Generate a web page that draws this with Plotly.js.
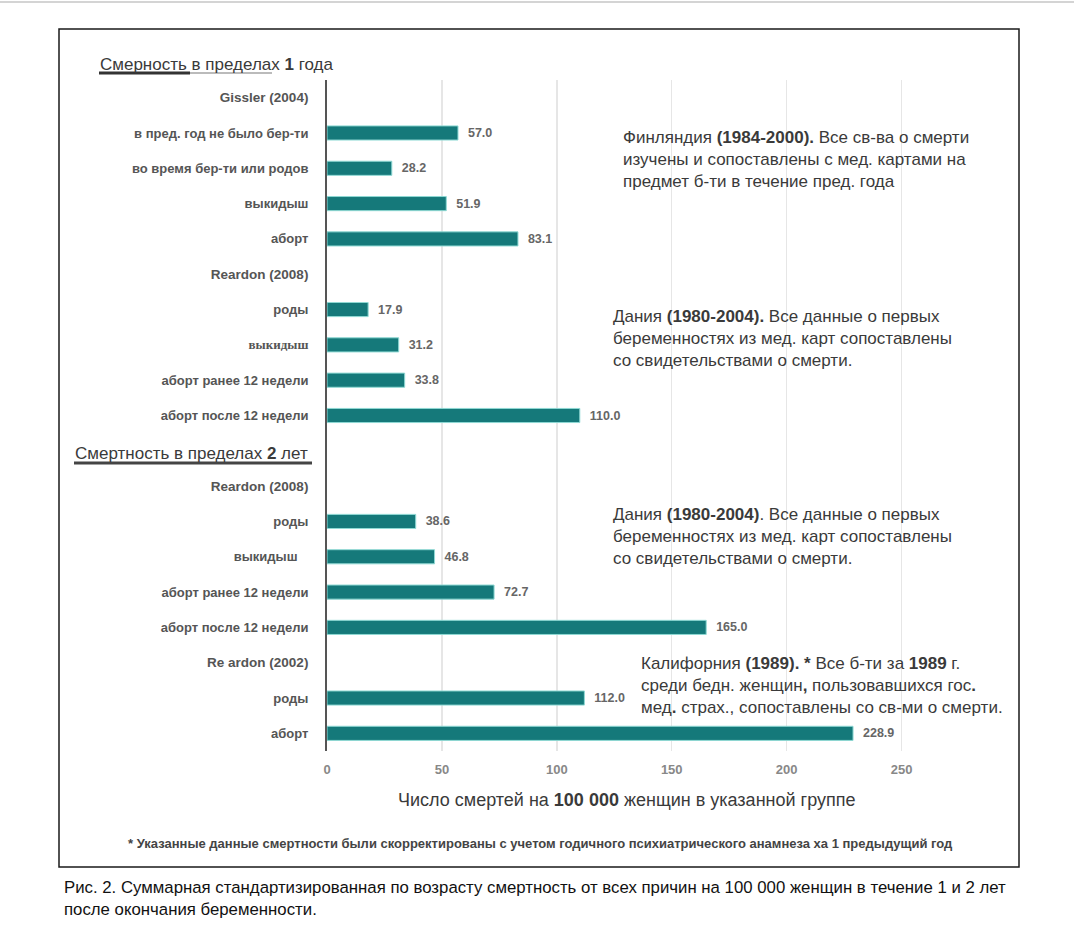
<!DOCTYPE html>
<html>
<head>
<meta charset="utf-8">
<script src="https://cdn.plot.ly/plotly-3.0.1.min.js"></script>
<style>html,body{margin:0;padding:0;background:#fff;}#chart{width:1074px;height:950px;}</style>
</head>
<body>
<div id="chart"></div>
<script>
// ---- data ----
const rowLabels = [
  "Gissler (2004)",
  "в пред. год не было бер-ти",
  "во время бер-ти или родов",
  "выкидыш",
  "аборт",
  "Reardon (2008)",
  "роды",
  "<span style=\"font-family:Liberation Serif\">выкидыш</span>",
  "аборт ранее 12 недели",
  "аборт после 12 недели",
  "",
  "Reardon (2008)",
  "роды",
  "выкидыш   ",
  "аборт ранее 12 недели",
  "аборт после 12 недели",
  "Re ardon (2002)",
  "роды",
  "аборт"
];
const deathRates = [null, 57.0, 28.2, 51.9, 83.1, null, 17.9, 31.2, 33.8, 110.0, null, null, 38.6, 46.8, 72.7, 165.0, null, 112.0, 228.9];
const xTickVals = [0, 50, 100, 150, 200, 250];

const header1 = "Смерность в пределах <b>1</b> года";
const header2 = "Смертность в пределах <b>2</b> лет";
const note1 = "Финляндия <b>(1984-2000).</b> Все св-ва о смерти<br>изучены и сопоставлены с мед. картами на<br>предмет б-ти в течение пред. года";
const note2 = "Дания <b>(1980-2004).</b> Все данные о первых<br>беременностях из мед. карт сопоставлены<br>со свидетельствами о смерти.";
const note3 = "Дания <b>(1980-2004)</b>. Все данные о первых<br>беременностях из мед. карт сопоставлены<br>со свидетельствами о смерти.";
const note4 = "Калифорния <b>(1989). *</b> Все б-ти за <b>1989</b> г.<br>среди бедн. женщин<b>,</b> пользовавшихся гос<b>.</b><br>мед<b>.</b> страх., сопоставлены со св-ми о смерти.";
const xTitle = "Число смертей на <b>100 000</b> женщин в указанной группе";
const footnote = "* Указанные данные смертности были скорректированы с учетом годичного психиатрического анамнеза ха 1 предыдущий год";
const caption = "Рис. 2. Суммарная стандартизированная по возрасту смертность от всех причин на 100 000 женщин в течение 1 и 2 лет<br>после окончания беременности.";

// ---- geometry helpers ----
const W = 1074, H = 950, ML = 327, MR = 138, MT = 80, MB = 199;
const PW = W - ML - MR, PH = H - MT - MB;
const px = x => (x - ML) / PW;
const py = y => (H - MB - y) / PH;

const rowIdx = rowLabels.map((_, i) => i);
const headerRows = [0, 5, 11, 16];
const tickText = rowLabels.map((t, i) => headerRows.includes(i) ? '<span style="font-size:13.5px">' + t + '</span>' : t);

const trace = {
  type: 'bar',
  orientation: 'h',
  y: rowIdx,
  x: deathRates,
  width: 0.4,
  marker: {color: '#15797a', line: {color: '#8fd9d4', width: 1}},
  text: deathRates.map(v => v == null ? '' : '  ' + v.toFixed(1)),
  textposition: 'outside',
  cliponaxis: false,
  textfont: {family: 'Liberation Sans, Arial, sans-serif', size: 12.5, color: '#666', weight: 700},
  hoverinfo: 'skip'
};

const txtFont = {family: 'Liberation Sans, Arial, sans-serif', size: 17, color: '#3a3a3a'};

const layout = {
  width: W, height: H,
  margin: {l: ML, r: MR, t: MT, b: MB, pad: 0},
  paper_bgcolor: '#fff', plot_bgcolor: '#fff',
  showlegend: false,
  bargap: 0.6,
  xaxis: {
    range: [0, 265], tickvals: xTickVals, ticktext: xTickVals.map(String),
    showgrid: true, gridcolor: '#e6e6e6', gridwidth: 1.5,
    zeroline: false, showline: false, ticks: '',
    ticklabelstandoff: 9,
    tickfont: {family: 'Liberation Sans, Arial, sans-serif', size: 13, color: '#888', weight: 700},
    fixedrange: true
  },
  yaxis: {
    range: [18.5, -0.5], tickvals: rowIdx, ticktext: tickText,
    showgrid: false, zeroline: false,
    showline: true, linecolor: '#555', linewidth: 2,
    ticks: '', ticklabelstandoff: 14,
    tickfont: {family: 'Liberation Sans, Arial, sans-serif', size: 13, color: '#555', weight: 700},
    fixedrange: true
  },
  annotations: [
    {text: header1, xref: 'paper', yref: 'paper', x: px(98), y: py(64), xanchor: 'left', yanchor: 'middle', showarrow: false, font: txtFont},
    {text: header2, xref: 'paper', yref: 'paper', x: px(73), y: py(453), xanchor: 'left', yanchor: 'middle', showarrow: false, font: txtFont},
    {text: note1, xref: 'paper', yref: 'paper', x: px(621), y: py(126), xanchor: 'left', yanchor: 'top', align: 'left', showarrow: false, font: txtFont},
    {text: note2, xref: 'paper', yref: 'paper', x: px(611), y: py(305), xanchor: 'left', yanchor: 'top', align: 'left', showarrow: false, font: txtFont},
    {text: note3, xref: 'paper', yref: 'paper', x: px(611), y: py(503), xanchor: 'left', yanchor: 'top', align: 'left', showarrow: false, font: txtFont},
    {text: note4, xref: 'paper', yref: 'paper', x: px(639), y: py(652), xanchor: 'left', yanchor: 'top', align: 'left', showarrow: false, font: txtFont},
    {text: xTitle, xref: 'paper', yref: 'paper', x: px(626), y: py(800), xanchor: 'center', yanchor: 'middle', showarrow: false,
     font: {family: 'Liberation Sans, Arial, sans-serif', size: 18, color: '#3a3a3a'}},
    {text: '<b>' + footnote + '</b>', xref: 'paper', yref: 'paper', x: px(540), y: py(843), xanchor: 'center', yanchor: 'middle', showarrow: false,
     font: {family: 'Liberation Sans, Arial, sans-serif', size: 13, color: '#444'}},
    {text: caption, xref: 'paper', yref: 'paper', x: px(62), y: py(876), xanchor: 'left', yanchor: 'top', align: 'left', showarrow: false,
     font: {family: 'Liberation Sans Narrow, Arial Narrow, Liberation Sans, sans-serif', size: 16.8, color: '#111'}}
  ],
  shapes: [
    {type: 'line', xref: 'paper', yref: 'paper', x0: px(0), x1: px(W), y0: py(2), y1: py(2), line: {color: '#d4d4d4', width: 2}},
    {type: 'rect', xref: 'paper', yref: 'paper', x0: px(59), x1: px(1019), y0: py(867), y1: py(29), line: {color: '#1a1a1a', width: 1.5}},
    {type: 'line', xref: 'paper', yref: 'paper', x0: px(99), x1: px(190), y0: py(73), y1: py(73), line: {color: '#333', width: 3}},
    {type: 'line', xref: 'paper', yref: 'paper', x0: px(190), x1: px(272), y0: py(73), y1: py(73), line: {color: '#bbb', width: 2}},
    {type: 'line', xref: 'paper', yref: 'paper', x0: px(74), x1: px(312), y0: py(463), y1: py(463), line: {color: '#444', width: 3}}
  ]
};

Plotly.newPlot('chart', [trace], layout, {displayModeBar: false, staticPlot: true});
</script>
</body>
</html>
